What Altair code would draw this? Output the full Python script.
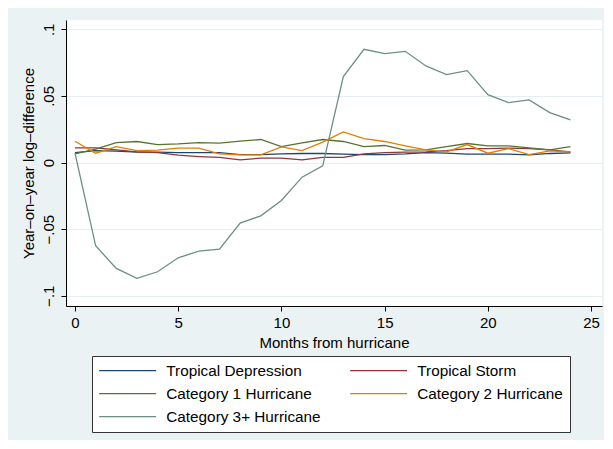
import altair as alt
import pandas as pd

months = list(range(25))
series_names = ["Tropical Depression", "Tropical Storm", "Category 1 Hurricane",
                "Category 2 Hurricane", "Category 3+ Hurricane"]
series_colors = ["#1a476f", "#90353b", "#55752f", "#e37e00", "#6e8e84"]

td = [0.0075, 0.009, 0.0085, 0.0078, 0.0078, 0.0075, 0.0075, 0.0075, 0.006, 0.006,
      0.0065, 0.0068, 0.0068, 0.0063, 0.006, 0.006, 0.0065, 0.0075, 0.007, 0.0063,
      0.0063, 0.0063, 0.0058, 0.0068, 0.0073]
ts = [0.011, 0.011, 0.0095, 0.008, 0.0075, 0.0055, 0.0045, 0.0038, 0.002, 0.0033,
      0.0033, 0.002, 0.0038, 0.0038, 0.0065, 0.0075, 0.0078, 0.008, 0.009, 0.0105,
      0.0105, 0.0108, 0.0105, 0.0095, 0.008]
c1 = [0.0065, 0.010, 0.015, 0.0158, 0.0135, 0.014, 0.015, 0.0145, 0.016, 0.0173,
      0.012, 0.0148, 0.0173, 0.0158, 0.012, 0.0128, 0.0093, 0.0095, 0.012, 0.0143,
      0.0125, 0.0125, 0.011, 0.0095, 0.012]
c2 = [0.016, 0.007, 0.012, 0.009, 0.0093, 0.0108, 0.0108, 0.0065, 0.0058, 0.0058,
      0.0118, 0.009, 0.0153, 0.023, 0.018, 0.0158, 0.0125, 0.0095, 0.008, 0.0135,
      0.007, 0.0105, 0.006, 0.0088, 0.008]
c3 = [0.007, -0.0625, -0.0795, -0.087, -0.082, -0.0715, -0.0665, -0.065, -0.0455, -0.040,
      -0.0285, -0.011, -0.0025, 0.0645, 0.085, 0.0818, 0.0835, 0.0725, 0.066, 0.069,
      0.051, 0.045, 0.047, 0.0375, 0.032]

x_ticks = [0, 5, 10, 15, 20, 25]
y_ticks = [-0.1, -0.05, 0, 0.05, 0.1]

rows = []
for order, (name, vals) in enumerate(zip(series_names, [td, ts, c1, c2, c3])):
    for m, v in zip(months, vals):
        rows.append({"month": m, "value": v, "series": name, "ord": order})
df = pd.DataFrame(rows)

FONT = "Liberation Sans, Arial, Helvetica, sans-serif"

chart = alt.Chart(df).mark_line(strokeWidth=1.3).encode(
    x=alt.X("month:Q",
            scale=alt.Scale(domain=[-0.436, 25.53], nice=False, zero=False),
            axis=alt.Axis(values=x_ticks, title="Months from hurricane", grid=False,
                          labelPadding=4, titlePadding=5)),
    y=alt.Y("value:Q",
            scale=alt.Scale(domain=[-0.1077, 0.107], nice=False, zero=False),
            axis=alt.Axis(values=y_ticks, title="Year–on–year log–difference",
                          labelAngle=270, labelAlign="center", labelBaseline="alphabetic",
                          labelPadding=8, titlePadding=5,
                          labelExpr="datum.value == 0 ? '0' : replace(format(datum.value, '.2~f'), '0.', '.')")),
    color=alt.Color("series:N",
                    scale=alt.Scale(domain=series_names, range=series_colors),
                    legend=alt.Legend(title=None, orient="none", legendX=26, legendY=336,
                                      direction="horizontal",
                                      columns=2, symbolType="M-5,0H5", symbolSize=130,
                                      symbolStrokeWidth=1.3, symbolOffset=21, labelOffset=31,
                                      columnPadding=26, rowPadding=7, padding=7,
                                      strokeColor="#333333", fillColor="white",
                                      labelFontSize=15.3, labelLimit=400, labelColor="black",
                                      labelFont=FONT)),
    order=alt.Order("ord:Q"),
).properties(
    width=536,
    height=286,
    padding={"left": 58, "top": 12, "right": 2, "bottom": 134},
    autosize=alt.AutoSizeParams(type="none"),
    background="#eaf2f3",
).configure_view(
    fill="white", stroke=None
).configure_axis(
    labelFont=FONT, titleFont=FONT, labelFontSize=15, titleFontSize=15,
    titleFontWeight="normal", labelColor="black", titleColor="black",
    domainColor="black", tickColor="black", domainWidth=1, tickWidth=1, tickSize=5,
    gridColor="#e6eef1", gridWidth=1,
)

chart.save("out.html", embed_options={"renderer": "svg", "actions": False})
